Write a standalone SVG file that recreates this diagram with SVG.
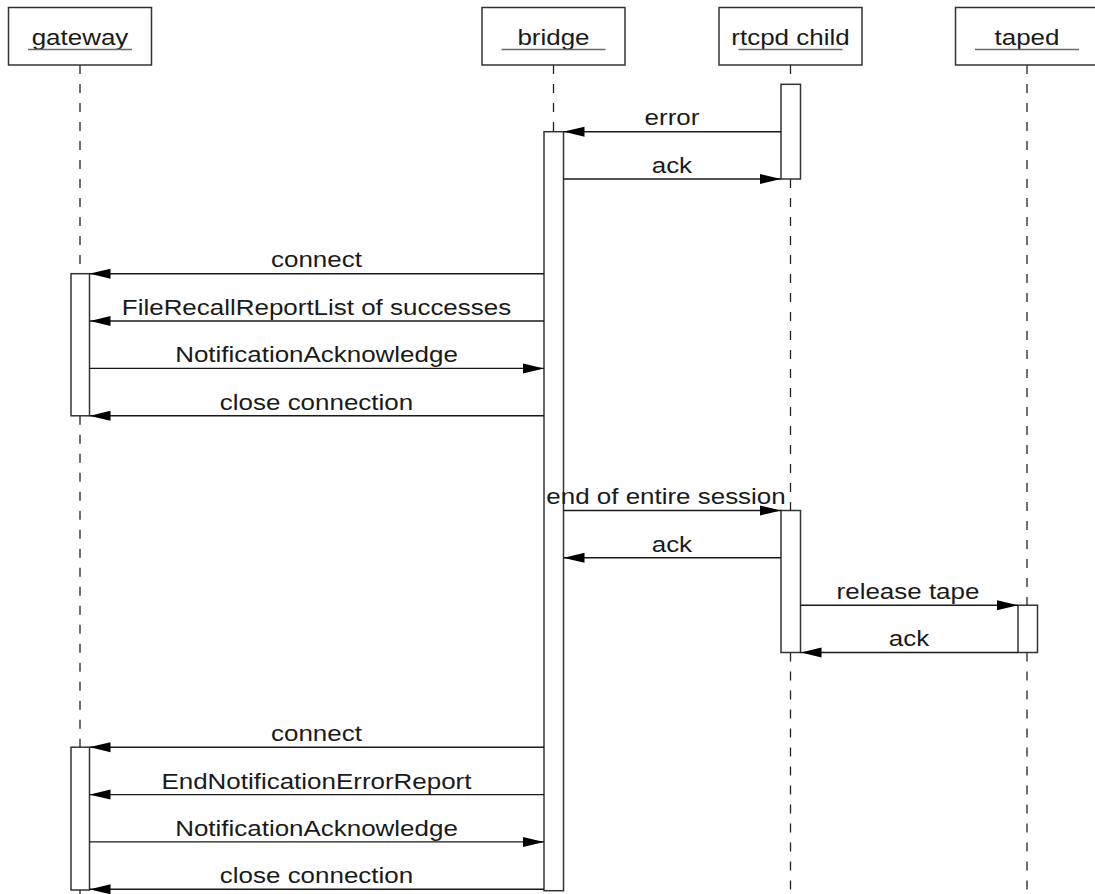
<svg xmlns="http://www.w3.org/2000/svg" width="1095" height="894" viewBox="0 0 1095 894">
  <style>
    .obj { fill: #ffffff; stroke: #333333; stroke-width: 1.5; }
    .uline { stroke: #6a6a6a; stroke-width: 1.6; }
    .life { stroke: #222222; stroke-width: 1.3; stroke-dasharray: 9 10; fill: none; }
    .act { fill: #ffffff; stroke: #333333; stroke-width: 1.5; }
    .msg { stroke: #1a1a1a; stroke-width: 1.4; fill: none; marker-end: url(#head); }
    text { font-family: "Liberation Sans", Arial, Helvetica, sans-serif; font-size: 22px; fill: #1a1a1a; text-anchor: middle; }
    .wide { transform-box: fill-box; transform-origin: center; transform: scaleX(1.18); }
  </style>
  <defs>
    <marker id="head" markerUnits="userSpaceOnUse" markerWidth="21" markerHeight="11" refX="21" refY="5.5" orient="auto">
      <path d="M0,0.5 L21,5.5 L0,10.5 Z" fill="#000000"/>
    </marker>
  </defs>
  <rect width="1095" height="894" fill="#ffffff"/>

  <!-- lifelines (dashes restart below each activation bar) -->
  <g id="lifelines">
    <line class="life" x1="80" y1="65" x2="80" y2="273.7"/>
    <line class="life" x1="80" y1="415.8" x2="80" y2="747.2"/>
    <line class="life" x1="80" y1="889.3" x2="80" y2="894"/>
    <line class="life" x1="553.5" y1="65" x2="553.5" y2="131.7"/>
    <line class="life" x1="790.5" y1="65" x2="790.5" y2="84.3"/>
    <line class="life" x1="790.5" y1="179" x2="790.5" y2="510.5"/>
    <line class="life" x1="790.5" y1="652.5" x2="790.5" y2="894"/>
    <line class="life" x1="1027" y1="65" x2="1027" y2="605.2"/>
    <line class="life" x1="1027" y1="652.5" x2="1027" y2="894"/>
  </g>

  <!-- participants -->
  <g id="gateway">
    <rect class="obj" x="8.5" y="7.5" width="143" height="57.5"/>
    <text class="wide" x="80" y="45.5">gateway</text>
    <line class="uline" x1="28" y1="49.5" x2="132" y2="49.5"/>
  </g>
  <g id="bridge">
    <rect class="obj" x="482" y="7.5" width="143" height="57.5"/>
    <text class="wide" x="553.5" y="45.5">bridge</text>
    <line class="uline" x1="501.5" y1="49.5" x2="605.5" y2="49.5"/>
  </g>
  <g id="rtcpd-child">
    <rect class="obj" x="719" y="7.5" width="143" height="57.5"/>
    <text class="wide" x="790.5" y="45.5">rtcpd child</text>
    <line class="uline" x1="738.5" y1="49.5" x2="842.5" y2="49.5"/>
  </g>
  <g id="taped">
    <rect class="obj" x="955.5" y="7.5" width="143" height="57.5"/>
    <text class="wide" x="1027" y="45.5">taped</text>
    <line class="uline" x1="975" y1="49.5" x2="1079" y2="49.5"/>
  </g>

  <!-- activation bars -->
  <g id="activations">
    <rect id="act-rtcpd-1" class="act" x="781" y="84.3" width="19.5" height="94.7"/>
    <rect id="act-bridge" class="act" x="544" y="131.7" width="19.5" height="759"/>
    <rect id="act-gateway-1" class="act" x="71" y="273.7" width="18.5" height="142.1"/>
    <rect id="act-rtcpd-2" class="act" x="781" y="510.5" width="19.5" height="142"/>
    <rect id="act-taped" class="act" x="1018" y="605.2" width="19.5" height="47.3"/>
    <rect id="act-gateway-2" class="act" x="71" y="747.2" width="18.5" height="142.8"/>
  </g>

  <!-- messages -->
  <g id="connectors">
    <line class="msg" x1="781" y1="131.7" x2="563.5" y2="131.7"/>
    <line class="msg" x1="563.5" y1="179" x2="781" y2="179"/>
    <line class="msg" x1="544" y1="273.7" x2="89.5" y2="273.7"/>
    <line class="msg" x1="544" y1="321" x2="89.5" y2="321"/>
    <line class="msg" x1="89.5" y1="368.4" x2="544" y2="368.4"/>
    <line class="msg" x1="544" y1="415.8" x2="89.5" y2="415.8"/>
    <line class="msg" x1="563.5" y1="510.5" x2="781" y2="510.5"/>
    <line class="msg" x1="781" y1="557.8" x2="563.5" y2="557.8"/>
    <line class="msg" x1="800.5" y1="605.2" x2="1018" y2="605.2"/>
    <line class="msg" x1="1018" y1="652.5" x2="800.5" y2="652.5"/>
    <line class="msg" x1="544" y1="747.2" x2="89.5" y2="747.2"/>
    <line class="msg" x1="544" y1="794.6" x2="89.5" y2="794.6"/>
    <line class="msg" x1="89.5" y1="841.9" x2="544" y2="841.9"/>
    <line class="msg" x1="544" y1="889.3" x2="89.5" y2="889.3"/>
  </g>

  <!-- message labels -->
  <g id="labels">
    <text class="wide" x="672" y="125.5">error</text>
    <text class="wide" x="672" y="173">ack</text>
    <text class="wide" x="316.5" y="267.5">connect</text>
    <text class="wide" x="316.5" y="315">FileRecallReportList of successes</text>
    <text class="wide" x="316.5" y="362.4">NotificationAcknowledge</text>
    <text class="wide" x="316.5" y="409.8">close connection</text>
    <text class="wide" x="666" y="504.5">end of entire session</text>
    <text class="wide" x="672" y="551.8">ack</text>
    <text class="wide" x="908" y="599.2">release tape</text>
    <text class="wide" x="909" y="646.5">ack</text>
    <text class="wide" x="316.5" y="741.2">connect</text>
    <text class="wide" x="316.5" y="788.6">EndNotificationErrorReport</text>
    <text class="wide" x="316.5" y="835.9">NotificationAcknowledge</text>
    <text class="wide" x="316.5" y="883.3">close connection</text>
  </g>
</svg>
